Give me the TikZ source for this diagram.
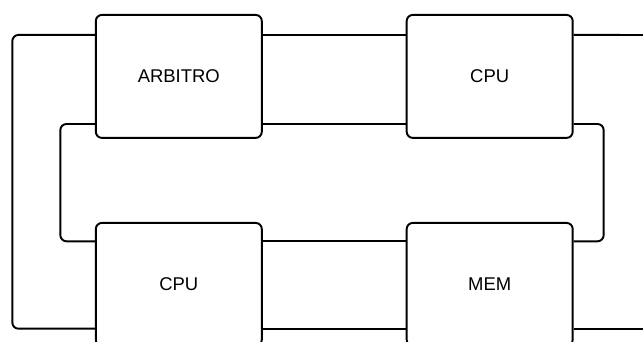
\documentclass[tikz,border=0pt]{standalone}
\usepackage{fontspec}
\setmainfont{Liberation Sans}
\usetikzlibrary{positioning}

\begin{document}
\begin{tikzpicture}[
    unit/.style={draw, line width=1.1pt, rounded corners=3.5pt, minimum width=3.32cm, minimum height=2.46cm, font=\fontsize{10.5}{12}\selectfont, align=center, fill=white},
    bus/.style={line width=1.1pt, rounded corners=3.5pt}
  ]
    \useasboundingbox (0,0) rectangle (12.86,-6.84);
    \node[unit] (arbitro) at (3.576,-1.528) {ARBITRO};
    \node[unit] (cpuA) at (9.794,-1.528) {CPU};
    \node[unit] (cpuB) at (3.576,-5.688) {CPU};
    \node[unit] (mem) at (9.794,-5.688) {MEM};
    \coordinate (edgeA) at (12.86,-0.70);
    \coordinate (edgeB) at (12.86,-6.574);

    \draw[bus] ([yshift=0.83cm]arbitro.west) -- ++(-1.65,0) |- ([yshift=-0.886cm]cpuB.west);
    \draw[bus] ([yshift=-0.952cm]arbitro.west) -- ++(-0.69,0) |- ([yshift=0.862cm]cpuB.west);
    \draw[bus] ([yshift=0.83cm]arbitro.east) -- ([yshift=0.83cm]cpuA.west);
    \draw[bus] ([yshift=-0.952cm]arbitro.east) -- ([yshift=-0.952cm]cpuA.west);
    \draw[bus] ([yshift=0.83cm]cpuA.east) -- (edgeA);
    \draw[bus] ([yshift=-0.952cm]cpuA.east) -- ++(0.6,0) |- ([yshift=0.862cm]mem.east);
    \draw[bus] ([yshift=0.862cm]cpuB.east) -- ([yshift=0.862cm]mem.west);
    \draw[bus] ([yshift=-0.886cm]cpuB.east) -- ([yshift=-0.886cm]mem.west);
    \draw[bus] ([yshift=-0.886cm]mem.east) -- (edgeB);
  \end{tikzpicture}
\end{document}
